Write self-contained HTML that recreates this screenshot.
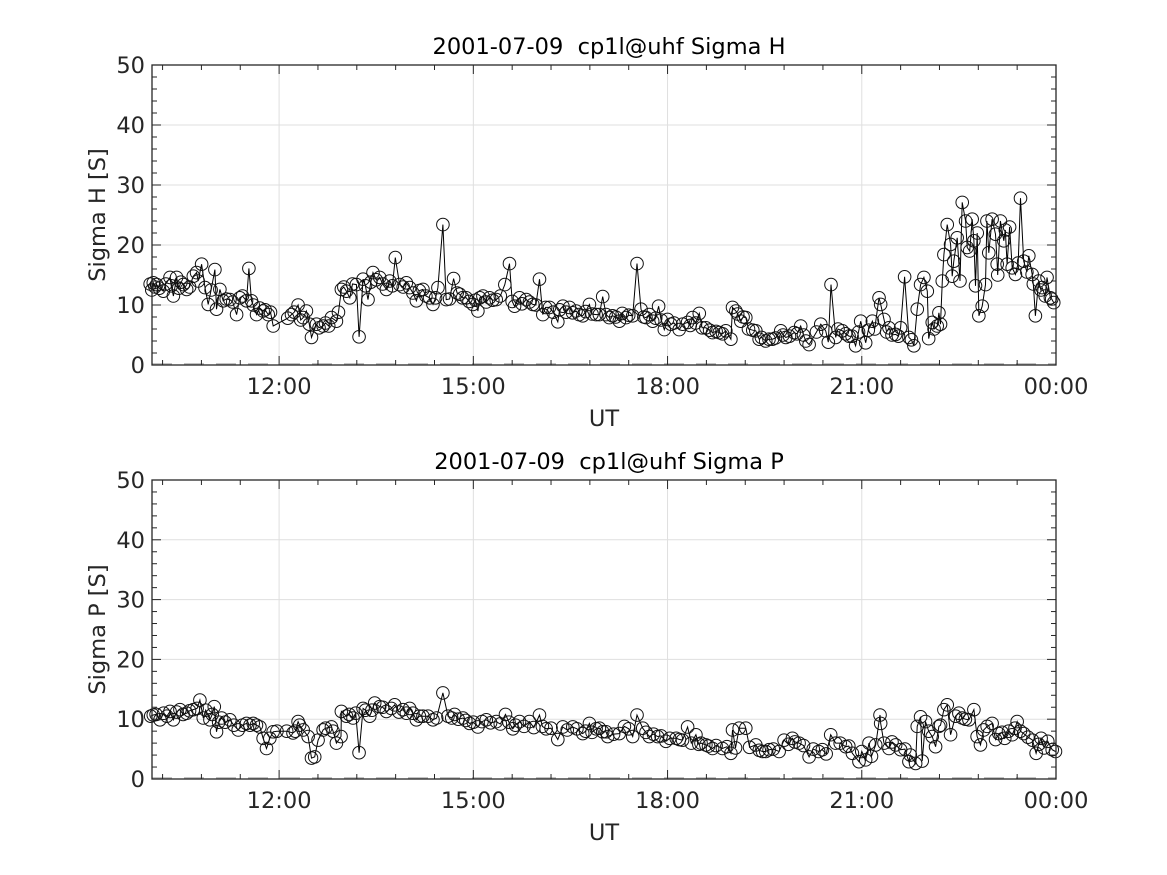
<!DOCTYPE html>
<html><head><meta charset="utf-8"><style>
html,body{margin:0;padding:0;background:#fff;}
svg{display:block;font-family:"DejaVu Sans","Liberation Sans",sans-serif;}
</style></head><body>
<svg id="fig" width="1167" height="875" viewBox="0 0 1167 875"></svg>
<script>
// ---- data (time in minutes after 10:00 UT, value in S) ----
const hTimes=[0.5,3.4,6.5,12.7,18.9,22,25,31.2,34.3,40.5,43.5,48.2,51.3,54.3,60.5,62,65.1,68.2,74.4,80.6,83.6,89.8,92,94.4,99.1,105.2,109.9,114.5,131.5,137.6,142.3,145.3,150,154.6,160.8,168.5,173.1,177.7,182.4,185.5,191.6,194.1,197.8,202.4,207,213.2,219.4,222.5,227.7,231.7,237.9,241,247.2,253.3,259.5,262.6,267.2,271.8,274.9,281.7,287.3,293.4,299.6,304.2,308.9,315,321.2,329.2,333.5,338.2,342.8,349,355.1,361.3,364.4,370.6,378.3,383,389.1,395.2,401.4,407.6,413.8,416.8,419.9,423,426,435.3,441.5,447.7,451.7,455.4,460,466.2,471.7,477,483.1,490.8,498.6,503.2,509.4,515.5,521.7,527.9,534,538.7,540.2,543.3,547.9,552.5,561.8,564.9,571,577.2,584.9,589.6,597.3,603.4,608.1,611.2,622,626.6,631.5,635.8,642,648.2,654.3,659,663.6,669.8,676,677.5,680.6,685.2,691.4,696,699.7,703.7,708.3,711.4,714.5,717.6,720.7,725.3,729.9,731.5,734.6,736.1,739.2,742.3,743.8,745.3,748.4,753.1,756.2,757.7,762.3,763.9,765.4,768.5,771.6,774.7,777.7,780.8,783.9,785.5,788.5,791.6,794.7,799.4,802.4,807.1,810.1,814.8,817.9,820.9,824,827.1,831.7,834.8,837.9];
const hValues=[13.5,13.7,13.4,12.3,14.6,11.5,14.6,13.4,12.6,14.8,15.4,16.8,12.9,10.1,15.9,9.3,12.6,10.7,10.9,8.4,11.2,10.7,16.1,10.7,8.4,9.0,8.4,6.5,8.4,10.0,7.9,9.0,4.6,6.8,6.5,7.9,7.3,12.6,12.3,11.2,13.4,4.7,14.3,10.9,15.4,14.6,12.6,14.0,17.9,13.4,13.7,12.9,10.7,12.6,11.2,10.1,12.9,23.4,10.9,14.4,11.8,11.2,10.1,9.0,11.5,11.2,10.9,13.4,16.9,9.8,11.2,10.9,10.1,14.3,8.4,9.6,7.2,9.8,9.6,9.0,8.2,10.1,8.4,8.4,11.4,8.4,7.9,7.3,7.9,8.2,16.9,9.3,7.9,7.3,9.8,5.9,6.8,5.9,7.1,7.9,8.6,6.2,5.4,5.4,5.7,4.3,9.6,9.0,7.3,7.9,5.7,4.3,4.0,4.3,5.7,4.6,5.4,6.5,4.0,3.4,6.8,5.7,13.4,4.6,5.7,4.8,3.2,7.3,3.7,7.3,11.2,10.1,7.6,6.2,5.1,6.2,14.7,4.6,3.2,9.3,13.4,14.6,12.3,7.1,6.5,8.7,14.0,18.4,23.4,20.1,14.8,17.3,21.2,27.1,24.0,19.6,24.3,20.7,13.2,8.2,9.8,13.4,18.7,24.3,21.8,16.8,24.0,20.7,16.8,16.2,15.1,27.8,17.3,18.2,15.1,8.2,14.0,12.9,14.6,11.2,10.4];
// extra densely-sampled readings (merged by time)
const hTimesExtra=[2,5,9,15,20,27,29,37,45,57,71,77,86,96,102,107,112,128,134,140,148,157,163,166,175,180,188,200,205,210,216,225,235,244,250,256,265,278,285,290,296,302,306,312,318,325,336,345,352,358,367,374,380,386,392,398,404,410,429,432,438,444,458,463,469,474,480,486,494,501,506,512,519,525,531,545,550,555,559,567,574,580,587,593,600,606,618,629,638,645,651,657,666,672,683,688,694,706,722,727,733,751,760,767,776,786,793,797,805,813,819,826,830,836];
const hValuesExtra=[12.5,13.0,12.8,13.5,13.2,12.8,13.8,13.0,14.0,12.5,11.0,10.5,11.5,10.0,9.5,9.2,8.8,7.8,8.8,7.5,6.8,6.2,7.0,6.5,8.8,13.0,13.5,13.2,13.8,14.2,13.5,13.2,13.0,12.0,12.4,11.5,11.2,11.0,12.0,11.2,10.6,10.8,11.2,10.5,10.8,11.5,10.6,10.2,10.5,10.0,9.6,8.8,9.2,8.8,8.7,8.4,8.9,8.5,8.2,8.0,8.6,8.3,8.0,8.4,7.8,7.5,7.6,7.0,6.8,6.6,7.0,6.2,5.8,5.6,5.2,8.5,8.0,6.0,5.8,4.6,4.3,4.5,5.0,4.8,5.2,5.0,5.5,3.8,6.0,5.2,4.8,5.5,5.8,6.0,5.5,5.0,4.8,4.2,4.4,6.0,6.8,14.0,19.0,22.0,24.0,15.0,22.5,23.0,17.0,15.5,13.5,12.5,11.5,11.0];
const pTimes=[3.4,9.6,18.9,22,28.1,34.3,40.5,46.6,49.7,55.9,59.9,62,66.7,74.4,82.1,89.8,96,102.2,105.2,108.3,111.4,114.5,132.9,137.6,142.3,146.9,150,153,156.1,160.8,168.5,173.1,177.4,177.7,182.4,188.5,194.1,197.8,204,208.6,213.2,219.4,227.1,234.8,241,247.2,253.3,262.6,271.8,276.5,282.6,290.4,296.5,304.2,312,321.2,329.8,336.6,342.8,352,361.3,367.5,378.3,382.9,392.2,401.4,407.6,413.8,419.9,424.5,416.8,423,435.3,447.7,451.7,457,463.1,470.8,478.5,488,493.9,498.6,506.3,511,515.5,521.7,530.9,538.7,540.2,546.4,552.5,561.8,568,574.1,583.4,588,595.7,601.9,611.2,623.5,631.2,635.8,645.1,651.3,657.4,663.6,666.7,672.9,676.9,677.5,680.6,685.2,691.4,696,703.7,709.9,711.4,714.5,719.1,725.3,728.4,731.5,736.1,739.2,742.3,746.9,753.1,759.3,763.9,766.9,770,776.2,780.8,787,792.5,799.4,804,810.1,818.2,821.6,826.2,832.4,836.5,839.5];
const pValues=[10.7,9.9,11.3,9.9,11.6,11.0,11.6,13.2,10.2,9.9,12.1,7.9,10.2,9.9,8.2,9.3,9.3,8.7,6.8,5.1,6.8,7.9,7.7,9.6,8.2,7.1,3.5,3.7,6.5,8.2,8.7,6.0,7.1,11.3,10.5,10.2,4.4,11.8,10.5,12.7,12.1,11.3,12.4,11.6,11.8,9.9,10.5,9.9,14.4,10.5,10.8,10.2,9.3,8.7,9.9,9.6,10.8,8.4,9.6,9.6,10.7,8.4,6.6,8.7,8.7,7.6,9.3,8.4,7.9,7.1,8.5,7.9,7.6,7.1,10.7,8.5,7.1,7.1,6.3,6.8,6.5,8.7,7.4,6.0,5.7,5.1,5.1,4.3,8.2,8.5,8.5,5.7,4.6,4.9,4.6,6.5,6.8,6.0,3.7,4.9,7.4,6.0,5.4,4.3,2.9,3.2,6.0,5.7,10.7,9.3,6.0,5.1,5.7,4.9,2.9,2.6,8.8,10.4,9.6,7.1,5.4,8.8,11.6,12.4,7.4,10.5,10.2,9.9,11.6,7.1,5.7,8.8,9.3,7.6,6.8,7.4,9.6,7.6,6.5,4.3,6.8,6.3,4.9,4.6];
const pTimesExtra=[1,6,13,16,25,31,37,44,52,58,64,70,78,86,93,99,118,127,135,139,163,170,185,191,200,206,216,224,231,238,244,250,258,266,280,286,293,300,308,316,325,333,339,347,356,364,372,387,396,404,410,430,440,444,460,467,474,482,491,502,509,518,525,535,543,556,565,571,578,592,598,606,615,620,627,640,648,660,669,688,700,705,716,722,733,750,756,773,784,790,796,802,807,814,824,829];
const pValuesExtra=[10.5,10.8,11.0,10.5,11.2,10.8,11.4,11.8,11.5,10.8,9.5,9.5,9.0,9.0,9.0,9.0,8.0,8.0,8.0,9.0,8.5,8.0,10.8,11.0,11.5,11.5,12.0,11.8,11.2,11.0,11.0,10.5,10.5,10.2,10.2,10.0,9.8,9.5,9.6,9.4,9.2,9.5,9.0,8.8,8.6,8.8,8.5,8.2,8.4,8.0,7.8,7.5,8.8,8.4,7.8,7.5,7.2,6.8,6.6,6.0,5.8,5.5,5.6,5.4,5.2,5.3,4.8,4.6,5.0,5.8,6.2,5.6,5.0,4.6,4.2,6.0,5.5,4.6,3.8,6.2,5.0,4.0,3.0,8.0,9.0,11.0,10.0,8.2,6.6,7.8,8.0,8.5,8.0,7.0,5.8,5.2];
const yTicks=[0,10,20,30,40,50];
const xTickMins=[120,300,480,660,840];
const xTickLabels=["12:00","15:00","18:00","21:00","00:00"];

const NS="http://www.w3.org/2000/svg";
const svg=document.getElementById('fig');
function mk(tag,attrs,parent){const e=document.createElementNS(NS,tag);for(const k in attrs)e.setAttribute(k,attrs[k]);(parent||svg).appendChild(e);return e;}
function merge(t1,v1,t2,v2){const a=t1.map((t,i)=>[t,v1[i]]).concat(t2.map((t,i)=>[t,v2[i]]));a.sort((p,q)=>p[0]-q[0]);return a;}

const X0=152,X1=1056,T0=2.2,T1=840;
function xs(m){return X0+(m-T0)/(T1-T0)*(X1-X0);}

function panel(cfg){
  const g=mk('g',{});
  
  
  const top=cfg.top,bot=cfg.bot;
  const ys=v=>bot-v/50*(bot-top);
  yTicks.forEach(v=>{if(v>0&&v<50){const l=mk('line',{x1:X0,x2:X1,y1:ys(v),y2:ys(v),stroke:'#dfdfdf','stroke-width':1},g);}});
  xTickMins.forEach(m=>{const x=xs(m);if(x<X1-1){const l=mk('line',{x1:x,x2:x,y1:top,y2:bot,stroke:'#dfdfdf','stroke-width':1},g);}});
  const z=mk('line',{x1:X0,x2:X1,y1:bot-1,y2:bot-1,stroke:'#b0b0b0','stroke-width':1.5,'stroke-dasharray':'20 12'},g);
  
  const pts=cfg.pts;
  let d='';
  pts.forEach((p,i)=>{d+=(i?'L':'M')+xs(p[0]).toFixed(1)+' '+ys(p[1]).toFixed(1);});
  const p=mk('path',{d:d,fill:'none',stroke:'#000','stroke-width':1},g);
  
  pts.forEach(pt=>{
    const c=mk('circle',{cx:xs(pt[0]),cy:ys(pt[1]),r:6.3,fill:'none',stroke:'#111','stroke-width':1},g);
    
    
  });
  const fr=mk('rect',{x:X0,y:top,width:X1-X0,height:bot-top,fill:'none',stroke:'#262626','stroke-width':1.3},g);
  
  for(let v=0;v<=50;v+=2){
    const y=ys(v),len=(v%10===0)?9:5;
    mk('line',{x1:X0,x2:X0+len,y1:y,y2:y,stroke:'#262626','stroke-width':1},g);
    mk('line',{x1:X1,x2:X1-len,y1:y,y2:y,stroke:'#262626','stroke-width':1},g);
  }
  yTicks.forEach(v=>{const t=mk('text',{x:X0-7,y:ys(v)+8,'text-anchor':'end','font-size':22.5,fill:'#262626'},g);t.textContent=v;});
  for(let m=120-36*3;m<=840;m+=36){
    const x=xs(m);if(x<X0)continue;
    const major=((m-120)%180===0);const len=major?9:5;
    mk('line',{x1:x,x2:x,y1:bot,y2:bot-len,stroke:'#262626','stroke-width':1},g);
    mk('line',{x1:x,x2:x,y1:top,y2:top+len,stroke:'#262626','stroke-width':1},g);
  }
  xTickMins.forEach((m,i)=>{const t=mk('text',{x:xs(m),y:bot+29,'text-anchor':'middle','font-size':22.5,fill:'#262626'},g);t.textContent=xTickLabels[i];});
  const xl=mk('text',{x:(X0+X1)/2,y:bot+61,'text-anchor':'middle','font-size':22.5,fill:'#262626'},g);xl.textContent='UT';
  
  const yl=mk('text',{x:0,y:0,'text-anchor':'middle','font-size':22.5,fill:'#262626',transform:`translate(105,${(top+bot)/2}) rotate(-90)`},g);yl.textContent=cfg.ylabel;
  
  const ti=mk('text',{x:(X0+X1)/2+5,y:top-11,'text-anchor':'middle','font-size':22.5,fill:'#000'},g);ti.textContent=cfg.title;ti.style.whiteSpace='pre';
  
}
panel({name:'sigma-h-panel',top:65,bot:365,pts:merge(hTimes,hValues,hTimesExtra,hValuesExtra),ylabel:'Sigma H [S]',title:'2001-07-09  cp1l@uhf Sigma H'});
panel({name:'sigma-p-panel',top:480,bot:779,pts:merge(pTimes,pValues,pTimesExtra,pValuesExtra),ylabel:'Sigma P [S]',title:'2001-07-09  cp1l@uhf Sigma P'});
</script>
</body></html>
